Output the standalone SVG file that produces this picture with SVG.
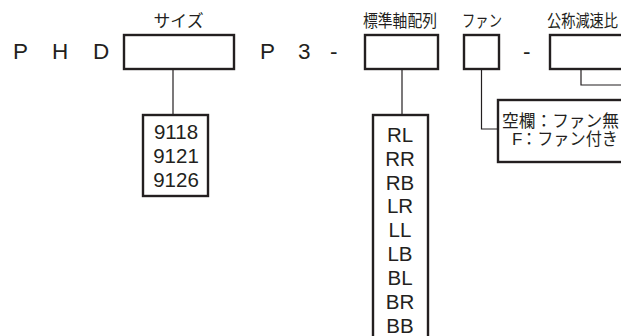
<svg xmlns="http://www.w3.org/2000/svg" width="621" height="336" viewBox="0 0 621 336">
<style>
.bx{fill:#fff;stroke:#231f20;stroke-width:2.4}
.ln{fill:none;stroke:#231f20;stroke-width:1.2}
.big{font-family:"Liberation Sans","Noto Sans CJK JP",sans-serif;font-size:22.5px;fill:#231f20}
.lbl{font-family:"Liberation Sans","Noto Sans CJK JP",sans-serif;font-size:16.5px;fill:#231f20;text-anchor:middle}
.lst{font-family:"Liberation Sans","Noto Sans CJK JP",sans-serif;font-size:20.5px;fill:#231f20;text-anchor:middle}
.note{font-family:"Liberation Sans","Noto Sans CJK JP",sans-serif;font-size:17px;fill:#231f20}
</style>
<rect width="621" height="336" fill="#fff"/>
<g id="prefix">
<text class="big" x="13" y="59">P</text>
<text class="big" x="52" y="59">H</text>
<text class="big" x="93" y="59">D</text>
</g>
<g id="mid">
<text class="big" x="260" y="59">P</text>
<text class="big" x="298" y="59">3</text>
<text class="big" x="330" y="59">-</text>
<text class="big" x="523" y="59">-</text>
</g>
<g id="connectors">
<line class="ln" x1="173" y1="69" x2="173" y2="115"/>
<line class="ln" x1="402" y1="69" x2="402" y2="115"/>
<polyline class="ln" points="481.5,69 481.5,129 498,129"/>
<polyline class="ln" points="581,69 581,85 640,85"/>
</g>
<g id="size">
<text class="lbl" x="178.5" y="26.5" textLength="50" lengthAdjust="spacingAndGlyphs">サイズ</text>
<rect class="bx" x="124" y="35" width="110" height="34"/>
</g>
<g id="size-list">
<rect class="bx" x="143" y="115" width="65" height="81"/>
<text class="lst" x="176" y="139">9118</text>
<text class="lst" x="176" y="163">9121</text>
<text class="lst" x="176" y="187">9126</text>
</g>
<g id="axis">
<text class="lbl" x="400" y="26.5" textLength="74" lengthAdjust="spacingAndGlyphs">標準軸配列</text>
<rect class="bx" x="365" y="35" width="73" height="34"/>
</g>
<g id="axis-list">
<rect class="bx" x="373" y="115" width="55" height="240"/>
<text class="lst" x="400" y="142">RL</text>
<text class="lst" x="400" y="166">RR</text>
<text class="lst" x="400" y="190">RB</text>
<text class="lst" x="400" y="213">LR</text>
<text class="lst" x="400" y="237">LL</text>
<text class="lst" x="400" y="261">LB</text>
<text class="lst" x="400" y="285">BL</text>
<text class="lst" x="400" y="309">BR</text>
<text class="lst" x="400" y="333">BB</text>
</g>
<g id="fan">
<text class="lbl" x="482" y="26.5" textLength="40" lengthAdjust="spacingAndGlyphs">ファン</text>
<rect class="bx" x="464" y="35" width="35" height="34"/>
</g>
<g id="fan-note">
<rect class="bx" x="498" y="100" width="200" height="62" stroke-width="2.6"/>
<text class="note" x="502" y="127" textLength="117" lengthAdjust="spacingAndGlyphs">空欄：ファン無</text>
<text class="note" x="512" y="145">F</text>
<text class="note" x="521" y="145" textLength="97" lengthAdjust="spacingAndGlyphs">：ファン付き</text>
</g>
<g id="ratio">
<text class="lbl" x="582.5" y="26.5" textLength="71" lengthAdjust="spacingAndGlyphs">公称減速比</text>
<rect class="bx" x="550" y="35" width="120" height="34"/>
</g>
</svg>
